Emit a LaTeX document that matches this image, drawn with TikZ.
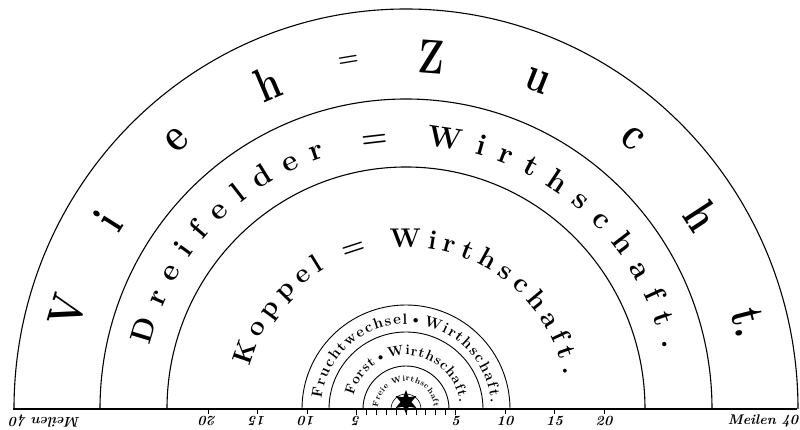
\documentclass[tikz,border=0pt]{standalone}
\usepackage{graphicx}
\usetikzlibrary{decorations.text,shapes.geometric}
\newcommand{\mile}{9.9}
\newcommand{\narrow}[1]{\scalebox{0.78}[1]{#1}}

\begin{document}
\begin{tikzpicture}[x=1pt, y=1pt,
  ring/.style={draw, line width=1.1pt},
  smallring/.style={draw, line width=0.9pt},
  bigletter/.style={font=\fontsize{48}{48}\selectfont\bfseries, inner sep=0pt},
  scalelbl/.style={font=\fontsize{14}{14}\selectfont\itshape\bfseries, inner sep=0pt}]

  \useasboundingbox (-406,-21) rectangle (394,409);
  \coordinate (mitte) at (0,0);

  % Ringe
  \draw[ring] (392,0) arc[start angle=0, end angle=180, x radius=392, y radius=400];
  \draw[ring] (306,0) arc[start angle=0, end angle=180, x radius=306, y radius=310];
  \draw[ring] (239,0) arc[start angle=0, end angle=180, x radius=239, y radius=242];
  \draw[smallring] (104,0) arc[start angle=0, end angle=180, radius=104];
  \draw[smallring] (77,0) arc[start angle=0, end angle=180, radius=77];
  \draw[smallring] (43,0) arc[start angle=0, end angle=180, radius=43];

  % Viehzucht
  \foreach \ch/\ang [count=\k] in {V/163.9, i/147.7, e/130.5, h/113, Z/85.8, u/68.2, c/50, h/33.1, t./14.2}
    \node[bigletter, rotate=\ang-90] (vz\k) at (\ang:353) {\narrow{\ch}};
  \node[bigletter, rotate=9.4, font=\fontsize{24}{24}\selectfont\bfseries] (vzeq) at (99.4:353) {=};

  % Texte der inneren Ringe
  \path[decorate, decoration={text along path, text align=fit to path,
        text={|\fontsize{30}{30}\selectfont\bfseries|Dreifelder = Wirthschaft.}}]
    (166:264) arc[start angle=166, end angle=13, radius=264];
  \path[decorate, decoration={text along path, text align=fit to path,
        text={|\fontsize{27}{27}\selectfont\bfseries|Koppel = Wirthschaft.}}]
    (165:162) arc[start angle=165, end angle=12, radius=162];
  \path[decorate, decoration={text along path, text align=fit to path,
        text={|\fontsize{15}{15}\selectfont\bfseries|Fruchtwechsel{\textbullet}Wirthschaft.}}]
    (173:85) arc[start angle=173, end angle=4, radius=85];
  \path[decorate, decoration={text along path, text align=fit to path,
        text={|\fontsize{14}{14}\selectfont\bfseries|Forst{\textbullet}Wirthschaft.}}]
    (166:54) arc[start angle=166, end angle=7, radius=54];
  \path[decorate, decoration={text along path, text align=fit to path,
        text={|\fontsize{8}{8}\selectfont\bfseries|Freie Wirthschaft}}]
    (176:28) arc[start angle=176, end angle=4, radius=28];

  % Stadt
  \draw[line width=0.6pt] (-15,0) arc[start angle=180, end angle=0, radius=15];
  \node[star, star points=6, star point ratio=2.2, fill=black, minimum size=24pt,
        inner sep=0pt] (stadt) at (0,7) {};

  % Massstab
  \draw[line width=1.5pt] (-393,0) -- (391,0);
  \foreach \m in {-5,...,5}
    \draw[line width=0.8pt] (\m*\mile,0) -- ++(0,-6);
  \foreach \m in {-20,-15,-10,10,15,20}
    \draw[line width=0.8pt] (\m*\mile,0) -- ++(0,-5);
  \foreach \m in {5,10,15,20} {
    \node[scalelbl] (r\m) at (\m*\mile,-12) {\m};
    \node[scalelbl, rotate=180] (l\m) at (-\m*\mile,-12) {\m};
  }
  \node[scalelbl] (meilenr) at (357,-12) {Meilen 40};
  \node[scalelbl, rotate=180] (meilenl) at (-361,-12) {Meilen 40};
\end{tikzpicture}
\end{document}
